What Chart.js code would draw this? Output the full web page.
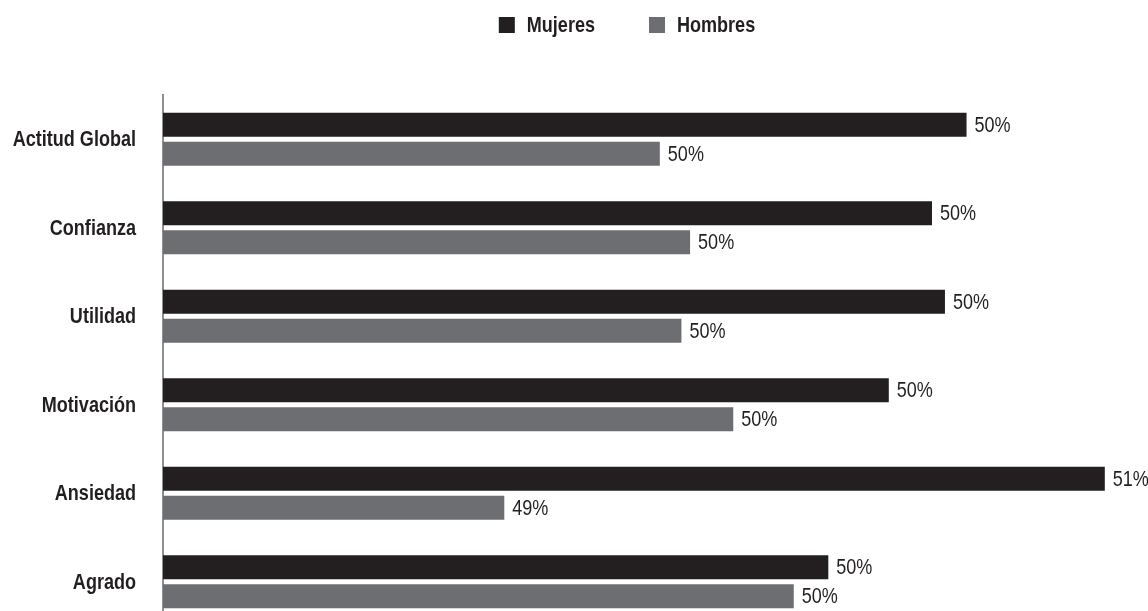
<!DOCTYPE html>
<html lang="es">
<head>
<meta charset="utf-8">
<title>Actitud por sexo</title>
<script src="https://cdn.jsdelivr.net/npm/chart.js@4/dist/chart.umd.min.js"></script>
<style>
    html, body { margin: 0; padding: 0; background: #ffffff; overflow: hidden; }
    canvas { display: block; }
</style>
</head>
<body>
<canvas id="barChart" width="1148" height="626"></canvas>
<script>

// datos

var categorias = ["Actitud Global", "Confianza", "Utilidad", "Motivación", "Ansiedad", "Agrado"];
var mujeres = [50.36, 50.28, 50.31, 50.18, 50.68, 50.04];
var hombres = [49.65, 49.72, 49.70, 49.82, 49.29, 49.96];

var FONT = "'Liberation Sans', Arial, sans-serif";
var ESTRECHO = 0.82;   // letra condensada: se comprime en horizontal
var NEGRO = "#231f20";
var GRIS = "#6d6e71";


// texto comprimido en horizontal
function textoEstrecho(ctx, txt, x, y, align) {
    ctx.save();
    ctx.translate(x, y);
    ctx.scale(ESTRECHO, 1);
    ctx.textAlign = align;
    ctx.fillText(txt, 0, 0);
    ctx.restore();
}


// nombres de las categorías a la izquierda del eje
var etiquetasEje = {
    id: "etiquetasEje",
    afterDraw: function (chart) {
        var ctx = chart.ctx;
        var eje = chart.scales.y;
        ctx.save();
        ctx.font = "bold 22px " + FONT;
        ctx.fillStyle = NEGRO;
        ctx.textBaseline = "middle";
        categorias.forEach(function (c, i) {
            textoEstrecho(ctx, c, chart.chartArea.left - 27, eje.getPixelForTick(i) + 1, "right");
        });
        ctx.restore();
    }
};


// etiquetas de porcentaje al final de cada barra
var etiquetasValor = {
    id: "etiquetasValor",
    afterDatasetsDraw: function (chart) {
        var ctx = chart.ctx;
        ctx.save();
        ctx.font = "22px " + FONT;
        ctx.fillStyle = NEGRO;
        ctx.textBaseline = "middle";
        chart.data.datasets.forEach(function (ds, i) {
            var meta = chart.getDatasetMeta(i);
            meta.data.forEach(function (bar, j) {
                textoEstrecho(ctx, Math.round(ds.data[j]) + "%", bar.x + 8, bar.y + 1, "left");
            });
        });
        ctx.restore();
    }
};


// leyenda arriba
var leyenda = {
    id: "leyenda",
    afterDraw: function (chart) {
        var ctx = chart.ctx;
        ctx.save();
        ctx.font = "bold 22px " + FONT;
        ctx.textBaseline = "middle";

        var caja = 16, sep = 12, hueco = 54;
        var items = chart.data.datasets.map(function (ds) {
            return { texto: ds.label, color: ds.backgroundColor, w: ctx.measureText(ds.label).width * ESTRECHO };
        });
        var total = 0;
        items.forEach(function (it, i) {
            total += caja + sep + it.w + (i > 0 ? hueco : 0);
        });

        var x = 627 - total / 2;
        var y = 25;
        items.forEach(function (it) {
            ctx.fillStyle = it.color;
            ctx.fillRect(x, y - caja / 2, caja, caja);
            ctx.fillStyle = NEGRO;
            textoEstrecho(ctx, it.texto, x + caja + sep, y + 1, "left");
            x += caja + sep + it.w + hueco;
        });
        ctx.restore();
    }
};


var bar = document.getElementById("barChart");

new Chart(bar, {
    type: "bar",

    data: {
        labels: categorias,
        datasets: [
            {
                label: "Mujeres",
                data: mujeres,
                backgroundColor: NEGRO
            },
            {
                label: "Hombres",
                data: hombres,
                backgroundColor: GRIS
            }
        ]
    },

    options: {
        indexAxis: "y",
        responsive: false,
        animation: false,
        categoryPercentage: 0.656,
        barPercentage: 0.828,
        layout: {
            padding: { top: 95, right: 0, bottom: 0, left: 0 }
        },
        plugins: {
            legend: { display: false },
            tooltip: { enabled: false }
        },
        scales: {
            x: {
                display: false,
                min: 48.5,
                max: 50.78
            },
            y: {
                grid: { display: false, drawTicks: false },
                border: { display: true, color: "#8e8f91", width: 2 },
                ticks: { display: false },
                afterFit: function (scale) {
                    scale.width = 163;
                }
            }
        }
    },

    plugins: [etiquetasValor, etiquetasEje, leyenda]
});

</script>
</body>
</html>
